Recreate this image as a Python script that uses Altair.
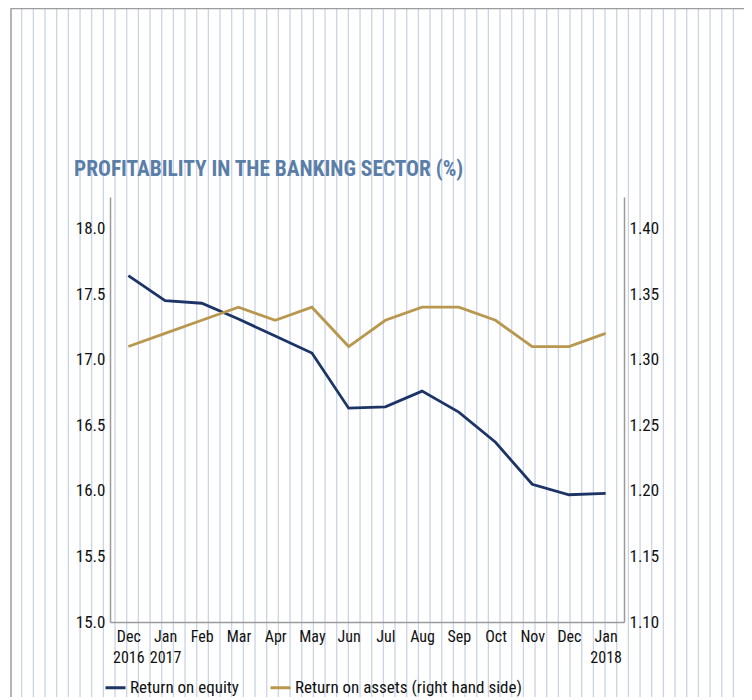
import altair as alt
import pandas as pd

# ---- data ----
months = ["Dec 2016", "Jan 2017", "Feb 2017", "Mar 2017", "Apr 2017", "May 2017",
          "Jun 2017", "Jul 2017", "Aug 2017", "Sep 2017", "Oct 2017", "Nov 2017",
          "Dec 2017", "Jan 2018"]
two_line_labels = ["Dec 2016", "Jan 2017", "Jan 2018"]
roe = [17.64, 17.45, 17.43, 17.31, 17.18, 17.05, 16.63, 16.64, 16.76, 16.60,
       16.37, 16.05, 15.97, 15.98]
roa = [1.31, 1.32, 1.33, 1.34, 1.33, 1.34, 1.31, 1.33, 1.34, 1.34, 1.33, 1.31,
       1.31, 1.32]
series = ["Return on equity", "Return on assets (right hand side)"]
left_ticks = [15.0, 15.5, 16.0, 16.5, 17.0, 17.5, 18.0]
right_ticks = [1.10, 1.15, 1.20, 1.25, 1.30, 1.35, 1.40]
stripe_index = list(range(63))

# ---- styles ----
colors = ["#1d3566", "#b8974f"]
FONT = "Liberation Sans Narrow, Roboto Condensed, DejaVu Sans Condensed, sans-serif"
W, H = 514, 425

df_roe = pd.DataFrame({"month": months, "value": roe, "series": series[0]})
df_roa = pd.DataFrame({"month": months, "value": roa, "series": series[1]})
stripes_df = pd.DataFrame({"i": stripe_index})

label_expr = ("indexof(" + str(two_line_labels) + ", datum.value) >= 0 ? "
              "split(datum.value, ' ') : split(datum.value, ' ')[0]")

stripes = alt.Chart(stripes_df).mark_rule(color="#cbd4e4", strokeWidth=1.3).encode(
    x=alt.X("i:Q", scale=alt.Scale(domain=[0, 62], range=[-88.3, 635.05]), axis=None),
    y=alt.value(-189),
    y2=alt.value(500),
)

frame_top = alt.Chart(alt.Data(values=[{}])).mark_rule(color="#9d9d9d", strokeWidth=1.5).encode(
    x=alt.value(-99), x2=alt.value(650), y=alt.value(-188.5)
)
frame_left = alt.Chart(alt.Data(values=[{}])).mark_rule(color="#9d9d9d", strokeWidth=1.5).encode(
    x=alt.value(-99), y=alt.value(-189), y2=alt.value(500)
)

color_enc = alt.Color("series:N", scale=alt.Scale(domain=series, range=colors), title=None,
                      sort=series)

x_enc = alt.X("month:N", sort=months, scale=alt.Scale(type="point", padding=0.5),
              title=None,
              axis=alt.Axis(labelExpr=label_expr, labelAngle=0, labelPadding=6,
                            labelLineHeight=21, labelFontSize=16, zindex=2))

roe_line = alt.Chart(df_roe).mark_line(strokeWidth=2.8).encode(
    x=x_enc,
    y=alt.Y("value:Q", scale=alt.Scale(domain=[15, 18.24], nice=False, zero=False),
            axis=alt.Axis(orient="left", values=left_ticks, format=".1f",
                          labelPadding=5, labelFontSize=17, zindex=2), title=None),
    color=color_enc,
)

roa_line = alt.Chart(df_roa).mark_line(strokeWidth=2.8).encode(
    x=alt.X("month:N", sort=months, scale=alt.Scale(type="point", padding=0.5), axis=None),
    y=alt.Y("value:Q", scale=alt.Scale(domain=[1.10, 1.424], nice=False, zero=False),
            axis=alt.Axis(orient="right", values=right_ticks, format=".2f",
                          labelPadding=5, labelFontSize=17, zindex=2), title=None),
    color=color_enc,
)

chart = alt.layer(stripes, frame_top, frame_left, roe_line, roa_line).resolve_scale(
    x="independent", y="independent", color="shared"
).properties(
    width=W, height=H,
    autosize=alt.AutoSizeParams(type="none"),
    padding={"left": 102, "top": 189, "right": 120, "bottom": 78},
    title=alt.TitleParams(
        "PROFITABILITY IN THE BANKING SECTOR (%)", anchor="start", frame="group",
        dx=-36, dy=189, offset=16, font=FONT, fontSize=21.4, fontWeight="bold",
        color="#5a7ea8",
    ),
).configure_view(stroke=None).configure_axis(
    labelFont=FONT, labelColor="#111111", domainColor="#9a9a9a", domainWidth=1.5,
    ticks=False, grid=False,
).configure_legend(
    orient="none", legendX=-6, legendY=479, direction="horizontal",
    symbolType="stroke", symbolSize=400, symbolStrokeWidth=3,
    labelFont=FONT, labelFontSize=17, labelColor="#111111", labelLimit=0,
    columnPadding=25, labelOffset=3, padding=0,
)

chart.save("out.html", embed_options={"renderer": "svg", "actions": False})
